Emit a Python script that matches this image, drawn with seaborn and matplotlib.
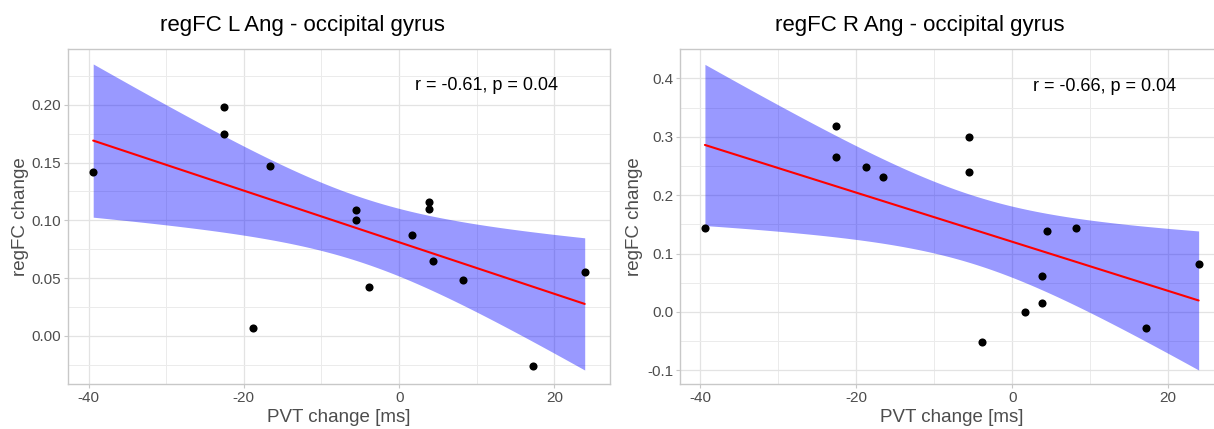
import numpy as np
import pandas as pd
import matplotlib
matplotlib.use("Agg")
import matplotlib.pyplot as plt
import seaborn as sns
from matplotlib.ticker import MultipleLocator, FormatStrFormatter

# values
pvt_change = [-39.4, -22.6, -22.6, -18.8, -16.6, -5.6, -5.6, -3.9, 1.7, 3.8, 3.8, 4.4, 8.2, 17.2, 23.9]
regfc_l_ang = [0.142, 0.198, 0.175, 0.007, 0.147, 0.109, 0.100, 0.0425, 0.087, 0.1156, 0.110, 0.065, 0.048, -0.026, 0.0555]
regfc_r_ang = [0.144, 0.319, 0.265, 0.248, 0.232, 0.299, 0.239, -0.052, 0.0, 0.061, 0.016, 0.138, 0.143, -0.027, 0.082]

titles = ["regFC L Ang - occipital gyrus", "regFC R Ang - occipital gyrus"]
stat_labels = ["r = -0.61, p = 0.04", "r = -0.66, p = 0.04"]
stat_pos = [(11.2, 0.217), (11.9, 0.386)]
ylims = [(-0.042, 0.248), (-0.124, 0.450)]
ysteps = [0.05, 0.1]
yfmt = ["%.2f", "%.1f"]

sns.set_style("white")
plt.rcParams['font.family'] = ['Liberation Sans', 'DejaVu Sans']
plt.rcParams['axes.unicode_minus'] = False

fig = plt.figure(figsize=(12.14, 4.29), dpi=100)
axes = [fig.add_axes([0.0563, 0.1042, 0.4458, 0.7809]),
        fig.add_axes([0.5601, 0.1042, 0.4478, 0.7809])]
title_x = [0.432, 0.4415]
ylab_x = [-0.089, -0.083]

T975 = 2.1604  # t quantile, df = 13

for i, (ax, yvals) in enumerate(zip(axes, [regfc_l_ang, regfc_r_ang])):
    df = pd.DataFrame({"x": pvt_change, "y": yvals})
    # analytic 95% confidence band of the linear fit (like geom_smooth(method = "lm"))
    x = df["x"].to_numpy()
    y = df["y"].to_numpy()
    n = len(x)
    b1, b0 = np.polyfit(x, y, 1)
    resid = y - (b0 + b1 * x)
    s = np.sqrt(np.sum(resid ** 2) / (n - 2))
    xs = np.linspace(x.min(), x.max(), 200)
    se = s * np.sqrt(1 / n + (xs - x.mean()) ** 2 / np.sum((x - x.mean()) ** 2))
    fit = b0 + b1 * xs
    ax.fill_between(xs, fit - T975 * se, fit + T975 * se, color="blue", alpha=0.4,
                    linewidth=0, zorder=2)

    sns.regplot(data=df, x="x", y="y", ax=ax, ci=None, truncate=True,
                scatter_kws=dict(color="black", s=34, linewidths=0, alpha=1, zorder=4),
                line_kws=dict(color="red", lw=1.5, zorder=3))

    ax.set_xlim(-42.6, 27.1)
    ax.set_ylim(*ylims[i])
    ax.xaxis.set_major_locator(MultipleLocator(20))
    ax.xaxis.set_minor_locator(MultipleLocator(10))
    ax.yaxis.set_major_locator(MultipleLocator(ysteps[i]))
    ax.yaxis.set_minor_locator(MultipleLocator(ysteps[i] / 2))
    ax.yaxis.set_major_formatter(FormatStrFormatter(yfmt[i]))

    ax.grid(which="major", color="#E3E3E3", lw=0.9, zorder=0)
    ax.grid(which="minor", color="#EBEBEB", lw=0.7, zorder=0)
    ax.set_axisbelow(True)
    for sp in ax.spines.values():
        sp.set_color("#C8C8C8")
        sp.set_linewidth(1.0)
    ax.tick_params(which="major", length=3, width=0.8, color="#C8C8C8",
                   labelsize=11, labelcolor="#4D4D4D", pad=2, bottom=True, left=True)
    ax.tick_params(which="minor", length=0)

    ax.set_xlabel("PVT change [ms]", fontsize=13.5, color="#4D4D4D", va="center")
    ax.set_ylabel("regFC change", fontsize=13.5, color="#4D4D4D", va="center")
    ax.xaxis.set_label_coords(0.5, -0.10)
    ax.yaxis.set_label_coords(ylab_x[i], 0.5)

    ax.text(title_x[i], 1.0 + 24 / 335, titles[i], transform=ax.transAxes,
            ha="center", va="center", fontsize=16, color="black")
    ax.text(stat_pos[i][0], stat_pos[i][1], stat_labels[i], ha="center", va="center",
            fontsize=13, color="black", zorder=5)

fig.savefig("out.png", dpi=100)
